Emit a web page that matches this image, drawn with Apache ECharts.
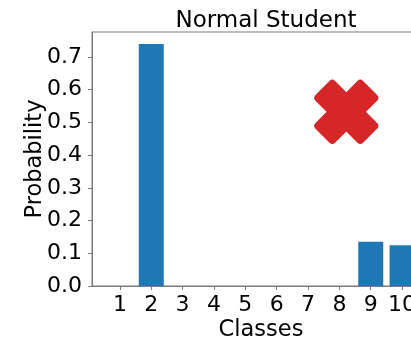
<!DOCTYPE html>
<html>
<head>
<meta charset="utf-8">
<script src="https://cdn.jsdelivr.net/npm/echarts@6/dist/echarts.min.js"></script>
<style>html,body{margin:0;padding:0;background:#fff;overflow:hidden}#c{width:440px;height:343px}</style>
</head>
<body>
<div id="c"></div>
<script>
const classes = [1, 2, 3, 4, 5, 6, 7, 8, 9, 10];
const probabilities = [0, 0.739, 0, 0, 0, 0, 0, 0, 0.1355, 0.1245];
const yTicks = [0, 0.1, 0.2, 0.3, 0.4, 0.5, 0.6, 0.7];
const crossPoint = [8.22, 0.532];
const titleText = 'Normal Student';
const xName = 'Classes';
const yName = 'Probability';

const font = 'DejaVu Sans';
const axisCol = '#7a7a7a';
const chart = echarts.init(document.getElementById('c'), null, {renderer: 'canvas'});
const xPath = 'path://M-0.25,-0.5L0,-0.25L0.25,-0.5L0.5,-0.25L0.25,0L0.5,0.25L0.25,0.5L0,0.25L-0.25,0.5L-0.5,0.25L-0.25,0L-0.5,-0.25Z';

chart.setOption({
  animation: false,
  title: {
    text: titleText, left: 261, top: 5, textAlign: 'center',
    textStyle: {fontFamily: font, fontSize: 23, fontWeight: 'normal', color: '#000'}
  },
  grid: {left: 92, width: 338, top: 32, bottom: 57, containLabel: false, outerBoundsMode: 'none',
         show: true, borderColor: axisCol, borderWidth: 1},
  xAxis: {
    type: 'value', min: 0.11, max: 10.89,
    name: xName, nameLocation: 'middle', nameGap: 33, nameMoveOverlap: false,
    nameTextStyle: {fontFamily: font, fontSize: 22.5, color: '#000'},
    axisLine: {show: true, onZero: false, lineStyle: {color: axisCol, width: 1}},
    axisTick: {show: true, length: 4, lineStyle: {color: axisCol}, customValues: classes},
    axisLabel: {fontFamily: font, fontSize: 22, color: '#000', margin: 8, customValues: classes,
                formatter: v => String(Math.round(v))},
    splitLine: {show: false}
  },
  yAxis: {
    type: 'value', min: 0, max: 0.776,
    name: yName, nameLocation: 'middle', nameGap: 45, nameRotate: 90, nameMoveOverlap: false,
    nameTextStyle: {fontFamily: font, fontSize: 22.5, color: '#000'},
    axisLine: {show: true, lineStyle: {color: axisCol, width: 1}},
    axisTick: {show: true, length: 4, lineStyle: {color: axisCol}, customValues: yTicks},
    axisLabel: {fontFamily: font, fontSize: 22, color: '#000', margin: 10, customValues: yTicks,
                formatter: v => v.toFixed(1)},
    splitLine: {show: false}
  },
  series: [
    {
      type: 'bar', barWidth: 25,
      data: classes.map((c, i) => [c, probabilities[i]]),
      itemStyle: {color: '#1f77b4', borderWidth: 0}
    },
    {
      type: 'scatter', symbol: xPath, symbolSize: 56,
      data: [crossPoint],
      itemStyle: {color: '#d62728', borderColor: '#d62728', borderWidth: 8, borderJoin: 'round', opacity: 1},
      z: 5
    }
  ]
});
</script>
</body>
</html>
